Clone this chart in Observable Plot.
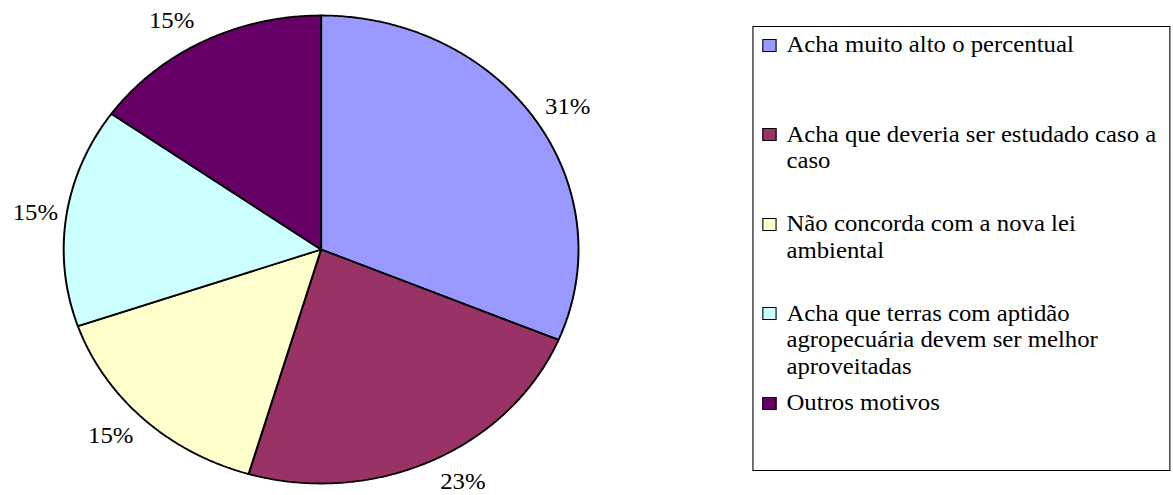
<!DOCTYPE html>
<html>
<head>
<meta charset="utf-8">
<script src="https://cdn.jsdelivr.net/npm/d3@7"></script>
<script src="https://cdn.jsdelivr.net/npm/@observablehq/plot@0.6"></script>
<style>
  html, body { margin: 0; padding: 0; background: #fff; overflow: hidden;
               font-family: 'Liberation Serif', serif; }
  #wrap {
    position: relative; width: 1066px; height: 495px;
    transform: scaleX(1.1); transform-origin: 0 0;
  }
  #chart { position: absolute; left: 0; top: 0; }
  #chart text { font-family: 'Liberation Serif', serif; }
  #legend {
    position: absolute; left: 684px; top: 26px; width: 380px; height: 445px;
    box-sizing: border-box; border: 1px solid #000; background: #fff;
    padding: 5px 0 0 8px;
  }
  .item { position: relative; height: 89.5px; padding-left: 22px; box-sizing: border-box;
          font-family: 'Liberation Serif', serif;
          font-size: 22.5px; line-height: 26.5px; color: #000; padding-right: 2px; }
  .sw { position: absolute; left: 0; top: 6.5px; width: 11px; height: 11px;
        border: 1.5px solid #000; }
</style>
</head>
<body>
<div id="wrap">
  <div id="chart"></div>
  <div id="legend"></div>
</div>
<script>
// Motivos declarados (percentual de respostas)
const categories = [
  "Acha muito alto o percentual",
  "Acha que deveria ser estudado caso a caso",
  "Não concorda com a nova lei ambiental",
  "Acha que terras com aptidão agropecuária devem ser melhor aproveitadas",
  "Outros motivos"
];
const values = [31, 23, 15, 15, 15];
const colors = ["#9999FF", "#993366", "#FFFFCC", "#CCFFFF", "#660066"];

// Slice angles, clockwise from 12 o'clock
const arcs = d3.pie().sort(null).value((d) => d.value)(
  categories.map((name, i) => ({name, value: values[i]}))
);

// Outline of each slice in unit coordinates (centre, arc, centre)
const outline = arcs.flatMap((a) => {
  const n = Math.max(2, Math.ceil((a.endAngle - a.startAngle) / (Math.PI / 360)));
  const pts = [{name: a.data.name, x: 0, y: 0}];
  for (let k = 0; k <= n; ++k) {
    const t = a.startAngle + (a.endAngle - a.startAngle) * k / n;
    pts.push({name: a.data.name, x: Math.sin(t), y: Math.cos(t)});
  }
  pts.push({name: a.data.name, x: 0, y: 0});
  return pts;
});

// Percent labels outside the rim; labels near the top/bottom are
// pushed sideways by about half their width
const R = 234, labelRadiusX = 262, labelRadiusY = 257, halfWidth = 20;
const labels = arcs.map((a) => {
  const m = (a.startAngle + a.endAngle) / 2;
  const s = Math.sin(m), c = Math.cos(m);
  return {
    text: `${a.data.value}%`,
    x: (labelRadiusX * s + halfWidth * Math.sign(s) * c * c) / R,
    y: (labelRadiusY * c) / R
  };
});

const cx = 291.4, cy = 249;
const chart = Plot.plot({
  width: 1066,
  height: 495,
  x: {domain: [-1, 1], range: [cx - R, cx + R], axis: null},
  y: {domain: [-1, 1], range: [cy + R, cy - R], axis: null},
  color: {domain: categories, range: colors},
  style: {fontFamily: "'Liberation Serif', serif", background: "transparent"},
  marks: [
    Plot.line(outline, {
      x: "x", y: "y", z: "name", fill: "name",
      stroke: "#000", strokeWidth: 1.8, strokeLinejoin: "miter"
    }),
    Plot.text(labels, {
      x: "x", y: "y", text: "text",
      fontSize: 22.5, fill: "#000", fontFamily: "'Liberation Serif', serif"
    })
  ]
});
document.getElementById("chart").appendChild(chart);

// Legend box
const legend = d3.select("#legend");
categories.forEach((name, i) => {
  const item = legend.append("div").attr("class", "item");
  item.append("span").attr("class", "sw").style("background", colors[i]);
  item.append("span").text(name);
});
</script>
</body>
</html>
